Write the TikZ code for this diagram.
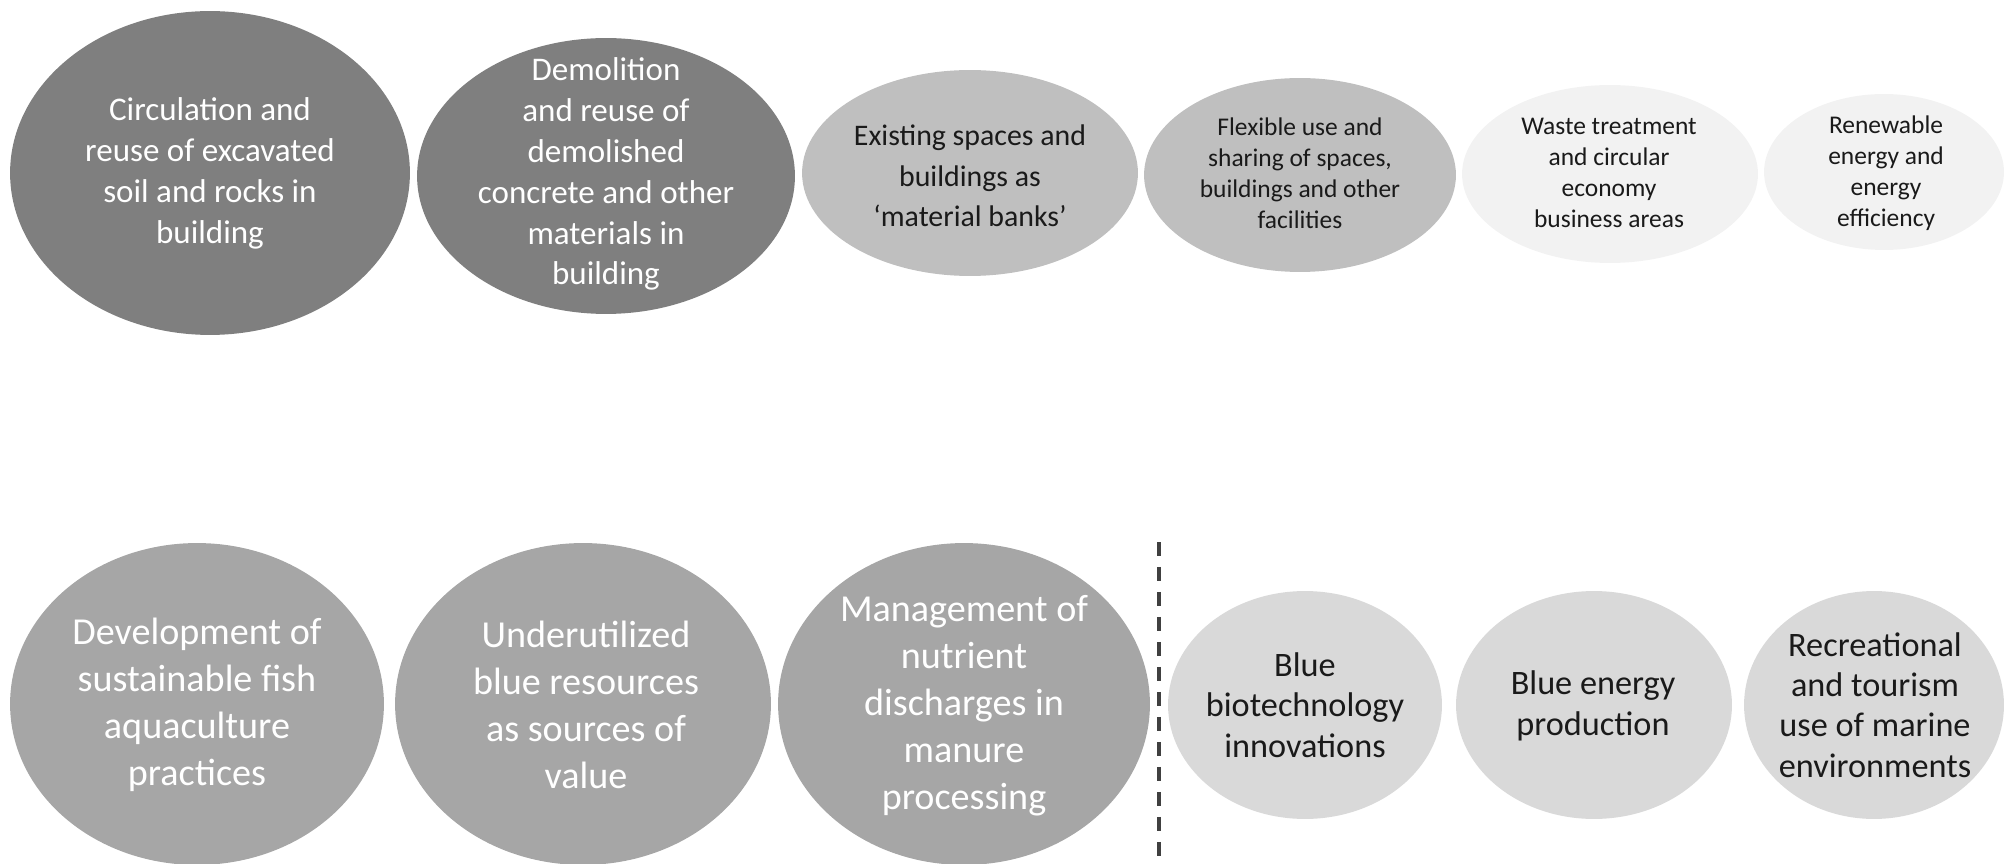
\documentclass[tikz,border=0pt]{standalone}
\usepackage{fontspec}
\setmainfont{Carlito}
\usetikzlibrary{shapes.geometric}
\definecolor{dkgray}{HTML}{7F7F7F}
\definecolor{mdgray}{HTML}{BFBFBF}
\definecolor{ltgray}{HTML}{F2F2F2}
\definecolor{bmgray}{HTML}{A6A6A6}
\definecolor{blgray}{HTML}{D9D9D9}
\definecolor{dashgray}{HTML}{404040}
\definecolor{ink}{HTML}{1A1A1A}
\begin{document}
\begin{tikzpicture}[x=0.02cm,y=-0.02cm,
  blob/.style 2 args={ellipse, inner sep=0pt, draw=none, minimum width=#1*0.04cm, minimum height=#2*0.04cm},
  txt/.style={align=center, inner sep=0pt},
  fbig/.style={font=\fontsize{18.8pt}{23.3pt}\selectfont},
  fmid/.style={font=\fontsize{17pt}{23pt}\selectfont},
  fsmall/.style={font=\fontsize{14.5pt}{17.6pt}\selectfont},
  flarge/.style={font=\fontsize{21.7pt}{26.7pt}\selectfont},
  fblue/.style={font=\fontsize{19.5pt}{23pt}\selectfont},
  sep/.style={draw=dashgray, line width=0.08cm, dash pattern=on 0.28cm off 0.22cm}
]
\useasboundingbox (0,0) rectangle (2004,864);
% top row
\node[blob={200}{162}, fill=dkgray] (e1) at (210,173) {};
\node[blob={189}{138}, fill=dkgray] (e2) at (606,176) {};
\node[blob={168}{103}, fill=mdgray] (e3) at (970,173) {};
\node[blob={156}{97}, fill=mdgray] (e4) at (1300,175) {};
\node[blob={148}{89}, fill=ltgray] (e5) at (1610,174) {};
\node[blob={120}{78}, fill=ltgray] (e6) at (1884,172) {};
\node[txt, fbig, text=white] (t1) at (210,173) {Circulation and\\reuse of excavated\\soil and rocks in\\building};
\node[txt, fbig, text=white] (t2) at (606,174) {Demolition\\and reuse of\\demolished\\concrete and other\\materials in\\building};
\node[txt, fmid, text=ink] (t3) at (970,176) {Existing spaces and\\buildings as\\‘material banks’};
\node[txt, fsmall, text=ink] (t4) at (1300,173) {Flexible use and\\sharing of spaces,\\buildings and other\\facilities};
\node[txt, fsmall, text=ink] (t5) at (1609,173) {Waste treatment\\and circular\\economy\\business areas};
\node[txt, fsmall, text=ink] (t6) at (1886,173) {Renewable\\energy and\\energy\\efficiency};
% bottom row
\node[blob={187}{161}, fill=bmgray] (b1) at (197,704) {};
\node[blob={188}{161}, fill=bmgray] (b2) at (583,704) {};
\node[blob={186}{161}, fill=bmgray] (b3) at (964,704) {};
\node[blob={137}{114}, fill=blgray] (b4) at (1305,705) {};
\node[blob={138}{114}, fill=blgray] (b5) at (1594,705) {};
\node[blob={130}{114}, fill=blgray] (b6) at (1874,705) {};
\node[txt, flarge, text=white] (s1) at (197,705) {Development of\\sustainable fish\\aquaculture\\practices};
\node[txt, flarge, text=white] (s2) at (586,705) {Underutilized\\blue resources\\as sources of\\value};
\node[txt, flarge, text=white] (s3) at (964,706) {Management of\\nutrient\\discharges in\\manure\\processing};
\node[txt, fblue, text=ink] (s4) at (1305,705) {Blue\\biotechnology\\innovations};
\node[txt, fblue, text=ink] (s5) at (1593,706) {Blue energy\\production};
\node[txt, fblue, text=ink] (s6) at (1875,705) {Recreational\\and tourism\\use of marine\\environments};
% separator
\coordinate (d1) at (1159,542);
\coordinate (d2) at (1159,864);
\draw[sep] (d1) -- (d2);
\end{tikzpicture}
\end{document}
